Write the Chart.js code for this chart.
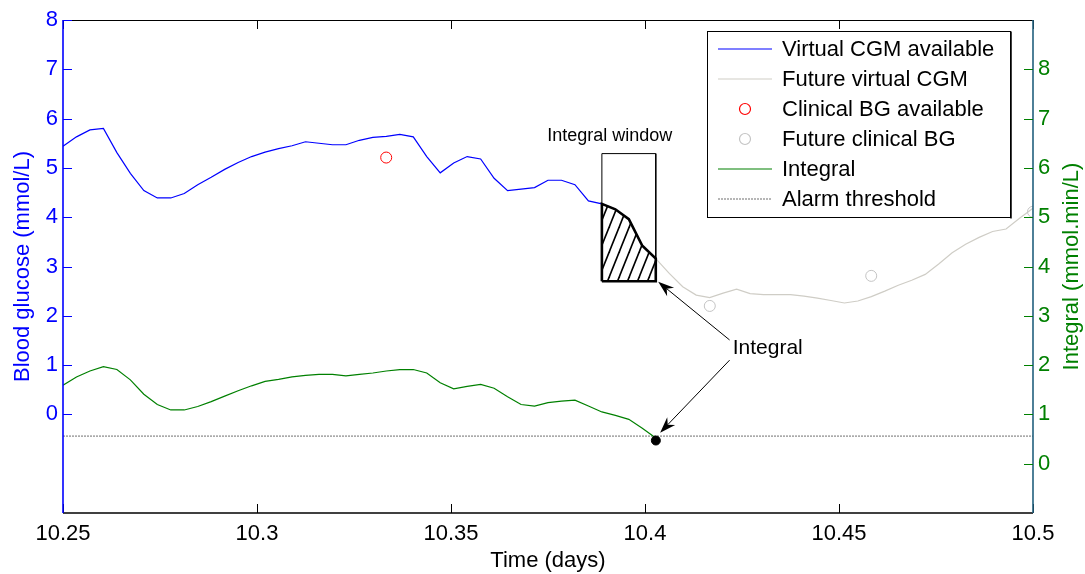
<!DOCTYPE html>
<html>
<head>
<meta charset="utf-8">
<script src="https://cdn.jsdelivr.net/npm/chart.js@4.4.0/dist/chart.umd.min.js"></script>
<style>
  html, body { margin: 0; padding: 0; background: #fff; }
</style>
</head>
<body>
<canvas id="bgChart" width="1085" height="574"></canvas>
<script>
// CGM sampled every 5 minutes, time in days
const startTime = 10.25;
const sampleStep = 5 / 1440;

// blood glucose (mmol/L) available up to the end of the integral window
const cgmAvailable = [
  5.44, 5.63, 5.77, 5.80, 5.31, 4.89, 4.54, 4.39, 4.39, 4.48,
  4.66, 4.81, 4.97, 5.11, 5.23, 5.32, 5.39, 5.45, 5.53, 5.50,
  5.47, 5.47, 5.56, 5.62, 5.64, 5.68, 5.63, 5.23, 4.90, 5.10,
  5.23, 5.18, 4.79, 4.54, 4.57, 4.60, 4.75, 4.75, 4.66, 4.33,
  4.27, 4.16, 3.96, 3.42, 3.16
];
// future CGM, starts at the last available sample
const cgmFuture = [
  3.16, 2.86, 2.59, 2.42, 2.37, 2.46, 2.54, 2.45, 2.43, 2.43,
  2.43, 2.40, 2.36, 2.31, 2.26, 2.30, 2.39, 2.50, 2.62, 2.72,
  2.84, 3.05, 3.28, 3.45, 3.59, 3.71, 3.76, 3.98, 4.18
];
// integral (mmol.min/L), right axis
const integralValues = [
  1.59, 1.76, 1.88, 1.97, 1.91, 1.70, 1.41, 1.20, 1.09, 1.09,
  1.16, 1.26, 1.37, 1.48, 1.58, 1.67, 1.71, 1.76, 1.79, 1.81,
  1.81, 1.78, 1.81, 1.84, 1.88, 1.91, 1.91, 1.84, 1.64, 1.52,
  1.57, 1.61, 1.53, 1.36, 1.20, 1.17, 1.24, 1.27, 1.29, 1.17,
  1.05, 0.98, 0.90, 0.72, 0.52
];
const alarmThreshold = 0.56;
const alarmTime = 10.4028;
const alarmValue = 0.47;

// clinical blood glucose samples
const bgAvailTimes = [10.3333];
const bgAvailValues = [5.21];
const bgFutureTimes = [10.4167, 10.4583, 10.5];
const bgFutureValues = [2.20, 2.81, 4.11];

// integral window (sample indices) and box levels (mmol/L)
const windowFirst = 40;
const windowLast = 44;
const windowTop = 5.29;
const windowBottom = 2.70;

const xTicks = [10.25, 10.3, 10.35, 10.4, 10.45, 10.5];
const leftTicks = [0, 1, 2, 3, 4, 5, 6, 7, 8];
const rightTicks = [0, 1, 2, 3, 4, 5, 6, 7, 8];

const FONT = "'Liberation Sans', Arial, Helvetica, sans-serif";
const BLUE = '#0000ff';
const GREEN = '#008000';
const FUTURE_GREY = '#cfcdc6';
const CIRCLE_GREY = '#c4c4c4';
const THRESH_GREY = '#6e6e6e';

const timeAt = k => startTime + k * sampleStep;

const availPts = cgmAvailable.map((v, i) => ({ x: timeAt(i), y: v }));
const futurePts = cgmFuture.map((v, i) => ({ x: timeAt(cgmAvailable.length - 1 + i), y: v }));
const integralPts = integralValues.map((v, i) => ({ x: timeAt(i), y: v }));

// hatched area under the curve inside the window
const hatchPts = [{ x: timeAt(windowFirst), y: windowBottom }];
for (let k = windowFirst; k <= windowLast; k++) hatchPts.push({ x: timeAt(k), y: cgmAvailable[k] });
hatchPts.push({ x: timeAt(windowLast), y: windowBottom });
hatchPts.push({ x: timeAt(windowFirst), y: windowBottom });

const windowPts = [
  { x: timeAt(windowFirst), y: windowBottom },
  { x: timeAt(windowFirst), y: windowTop },
  { x: timeAt(windowLast), y: windowTop },
  { x: timeAt(windowLast), y: windowBottom }
];

// diagonal "/" hatch, lines y = n*h - (h/w)*x so the tile repeats cleanly
function makeHatch() {
  const w = 10, h = 25;
  const c = document.createElement('canvas');
  c.width = w; c.height = h;
  const g = c.getContext('2d');
  g.strokeStyle = '#000';
  g.lineWidth = 1.6;
  for (let n = 0; n <= 2; n++) {
    g.beginPath();
    g.moveTo(-w, n * h + h);
    g.lineTo(2 * w, n * h - 2 * h);
    g.stroke();
  }
  return g.createPattern(c, 'repeat');
}

// annotations in data units
const annotations = {
  windowLabel: { text: 'Integral window', x: 10.3909, y: 5.645, axis: 'yLeft' },
  integralLabel: { text: 'Integral', x: 10.4226, y: 1.35, axis: 'yLeft' },
  arrows: [
    { from: [10.4218, 1.51], to: [10.4034, 2.69], axis: 'yLeft' },
    { from: [10.4218, 1.10], to: [10.4039, 0.63], axis: 'yLeft', toAxis: 'yRight' }
  ]
};

const legendItems = [
  { label: 'Virtual CGM available', kind: 'line', color: BLUE },
  { label: 'Future virtual CGM', kind: 'line', color: FUTURE_GREY },
  { label: 'Clinical BG available', kind: 'circle', color: '#ff0000' },
  { label: 'Future clinical BG', kind: 'circle', color: CIRCLE_GREY },
  { label: 'Integral', kind: 'line', color: GREEN },
  { label: 'Alarm threshold', kind: 'dash', color: THRESH_GREY }
];

function line(ctx, x0, y0, x1, y1) {
  ctx.beginPath();
  ctx.moveTo(x0, y0);
  ctx.lineTo(x1, y1);
  ctx.stroke();
}

function drawArrow(ctx, x0, y0, x1, y1) {
  const ang = Math.atan2(y1 - y0, x1 - x0);
  const L = 16, W = 5.5, N = 11;
  const c = Math.cos(ang), s = Math.sin(ang);
  line(ctx, x0, y0, x1 - N * c, y1 - N * s);
  const bx = x1 - L * c, by = y1 - L * s;
  ctx.beginPath();
  ctx.moveTo(x1, y1);
  ctx.lineTo(bx - s * W, by + c * W);
  ctx.lineTo(x1 - N * c, y1 - N * s);
  ctx.lineTo(bx + s * W, by - c * W);
  ctx.closePath();
  ctx.fill();
}

const framePlugin = {
  id: 'frame',
  afterDatasetsDraw(chart) {
    const { ctx, chartArea: a, scales } = chart;
    const xs = scales.x, yl = scales.yLeft, yr = scales.yRight;
    const TICK = 9;
    ctx.save();

    // annotations
    ctx.fillStyle = '#000';
    ctx.strokeStyle = '#000';
    ctx.lineWidth = 1;
    const wl = annotations.windowLabel;
    ctx.font = '18px ' + FONT;
    ctx.textAlign = 'center';
    ctx.textBaseline = 'middle';
    ctx.fillText(wl.text, xs.getPixelForValue(wl.x), scales[wl.axis].getPixelForValue(wl.y));
    const il = annotations.integralLabel;
    ctx.font = '21px ' + FONT;
    ctx.textAlign = 'left';
    ctx.fillText(il.text, xs.getPixelForValue(il.x), scales[il.axis].getPixelForValue(il.y));
    annotations.arrows.forEach(ar => {
      const fy = scales[ar.axis].getPixelForValue(ar.from[1]);
      const ty = scales[ar.toAxis || ar.axis].getPixelForValue(ar.to[1]);
      drawArrow(ctx, xs.getPixelForValue(ar.from[0]), fy, xs.getPixelForValue(ar.to[0]), ty);
    });

    // box and inward ticks
    ctx.strokeStyle = '#000';
    ctx.lineWidth = 1;
    line(ctx, a.left, a.top + 0.5, a.right, a.top + 0.5);
    ctx.lineWidth = 1.6;
    line(ctx, a.left, a.bottom, a.right, a.bottom);
    ctx.lineWidth = 1;
    xTicks.forEach(v => {
      const p = Math.round(xs.getPixelForValue(v)) + 0.5;
      line(ctx, p, a.bottom, p, a.bottom - TICK);
      line(ctx, p, a.top, p, a.top + TICK);
    });
    ctx.strokeStyle = BLUE;
    ctx.lineWidth = 1.6;
    line(ctx, a.left, a.top, a.left, a.bottom);
    ctx.lineWidth = 1;
    leftTicks.forEach(v => {
      const p = Math.round(yl.getPixelForValue(v)) + 0.5;
      line(ctx, a.left, p, a.left + TICK, p);
    });
    ctx.strokeStyle = '#21607e';
    ctx.lineWidth = 1.6;
    line(ctx, a.right, a.top, a.right, a.bottom);
    ctx.strokeStyle = GREEN;
    ctx.lineWidth = 1;
    rightTicks.forEach(v => {
      const p = Math.round(yr.getPixelForValue(v)) + 0.5;
      line(ctx, a.right, p, a.right - TICK, p);
    });
    ctx.restore();
  },
  afterDraw(chart) {
    const { ctx, chartArea: a } = chart;
    ctx.save();

    // right axis title reads bottom to top
    ctx.fillStyle = GREEN;
    ctx.font = '22px ' + FONT;
    ctx.textAlign = 'center';
    ctx.textBaseline = 'middle';
    ctx.translate(1072, (a.top + a.bottom) / 2);
    ctx.rotate(-Math.PI / 2);
    ctx.fillText('Integral (mmol.min/L)', 0, 0);
    ctx.setTransform(1, 0, 0, 1, 0, 0);

    // legend
    const bx = 707.5, by = 31.5, bw = 303, bh = 186;
    ctx.fillStyle = '#fff';
    ctx.fillRect(bx, by, bw, bh);
    ctx.strokeStyle = '#000';
    ctx.lineWidth = 1;
    ctx.strokeRect(bx, by, bw, bh);
    ctx.lineWidth = 1.5;
    line(ctx, bx + bw + 0.5, by, bx + bw + 0.5, by + bh + 1);
    ctx.font = '22px ' + FONT;
    ctx.textAlign = 'left';
    ctx.textBaseline = 'middle';
    legendItems.forEach((it, i) => {
      const yy = 49 + i * 30;
      ctx.strokeStyle = it.color;
      ctx.lineWidth = 1.2;
      if (it.kind === 'line') {
        line(ctx, 718, yy, 772, yy);
      } else if (it.kind === 'dash') {
        ctx.setLineDash([2, 1]);
        line(ctx, 718, yy, 772, yy);
        ctx.setLineDash([]);
      } else {
        ctx.beginPath();
        ctx.arc(745, yy, 5.5, 0, Math.PI * 2);
        ctx.stroke();
      }
      ctx.fillStyle = '#000';
      ctx.fillText(it.label, 782, yy + 1);
    });
    ctx.restore();
  }
};

const ctx = document.getElementById('bgChart').getContext('2d');
const hatch = makeHatch();

new Chart(ctx, {
  type: 'line',
  data: {
    datasets: [
      {
        label: 'Alarm point', data: [{ x: alarmTime, y: alarmValue }], yAxisID: 'yRight',
        showLine: false, pointRadius: 4.5, pointBackgroundColor: '#000', pointBorderColor: '#000'
      },
      {
        label: 'Integral area', data: hatchPts, yAxisID: 'yLeft',
        borderColor: '#000', borderWidth: 2.6, pointRadius: 0, fill: 'shape',
        backgroundColor: hatch, tension: 0
      },
      {
        label: 'Integral window', data: windowPts, yAxisID: 'yLeft',
        borderColor: '#000', borderWidth: 1, pointRadius: 0, fill: false, tension: 0
      },
      {
        label: 'Clinical BG available', data: bgAvailTimes.map((t, i) => ({ x: t, y: bgAvailValues[i] })),
        yAxisID: 'yLeft', showLine: false, pointRadius: 5.5, pointBorderWidth: 1,
        pointBorderColor: '#ff0000', pointBackgroundColor: 'rgba(0,0,0,0)'
      },
      {
        label: 'Future clinical BG', data: bgFutureTimes.map((t, i) => ({ x: t, y: bgFutureValues[i] })),
        yAxisID: 'yLeft', showLine: false, pointRadius: 5.5, pointBorderWidth: 1,
        pointBorderColor: CIRCLE_GREY, pointBackgroundColor: 'rgba(0,0,0,0)'
      },
      {
        label: 'Virtual CGM available', data: availPts, yAxisID: 'yLeft',
        borderColor: BLUE, borderWidth: 1.2, pointRadius: 0, tension: 0
      },
      {
        label: 'Future virtual CGM', data: futurePts, yAxisID: 'yLeft',
        borderColor: FUTURE_GREY, borderWidth: 1.2, pointRadius: 0, tension: 0
      },
      {
        label: 'Integral', data: integralPts, yAxisID: 'yRight',
        borderColor: GREEN, borderWidth: 1.2, pointRadius: 0, tension: 0
      },
      {
        label: 'Alarm threshold', data: [{ x: xTicks[0], y: alarmThreshold }, { x: xTicks[xTicks.length - 1], y: alarmThreshold }],
        yAxisID: 'yRight', borderColor: THRESH_GREY, borderWidth: 1, borderDash: [2, 1], pointRadius: 0
      }
    ]
  },
  options: {
    responsive: false,
    devicePixelRatio: 1,
    animation: false,
    layout: { padding: { top: 20, left: 0, right: 0, bottom: 0 } },
    plugins: { legend: { display: false }, tooltip: { enabled: false } },
    scales: {
      x: {
        type: 'linear', min: 10.25, max: 10.5,
        afterBuildTicks: s => { s.ticks = xTicks.map(v => ({ value: v })); },
        afterFit: s => { s.height = 61; },
        grid: { display: false, drawTicks: false },
        border: { display: false },
        ticks: {
          color: '#000', font: { family: FONT, size: 22 }, padding: 8,
          maxRotation: 0, autoSkip: false, callback: v => String(+v.toFixed(2))
        },
        title: { display: true, text: 'Time (days)', color: '#000', font: { family: FONT, size: 22 }, padding: { top: 0, bottom: 0 } }
      },
      yLeft: {
        type: 'linear', position: 'left', min: -2, max: 8,
        afterBuildTicks: s => { s.ticks = leftTicks.map(v => ({ value: v })); },
        afterFit: s => { s.width = 63; },
        grid: { display: false, drawTicks: false },
        border: { display: false },
        ticks: { color: BLUE, font: { family: FONT, size: 22 }, padding: 5 },
        title: { display: true, text: 'Blood glucose (mmol/L)', color: BLUE, font: { family: FONT, size: 22 }, padding: { top: 10, bottom: 0 } }
      },
      yRight: {
        type: 'linear', position: 'right', min: -1, max: 9,
        afterBuildTicks: s => { s.ticks = rightTicks.map(v => ({ value: v })); },
        afterFit: s => { s.width = 52; },
        grid: { display: false, drawTicks: false },
        border: { display: false },
        ticks: { color: GREEN, font: { family: FONT, size: 22 }, padding: 5 }
      }
    }
  },
  plugins: [framePlugin]
});
</script>
</body>
</html>
